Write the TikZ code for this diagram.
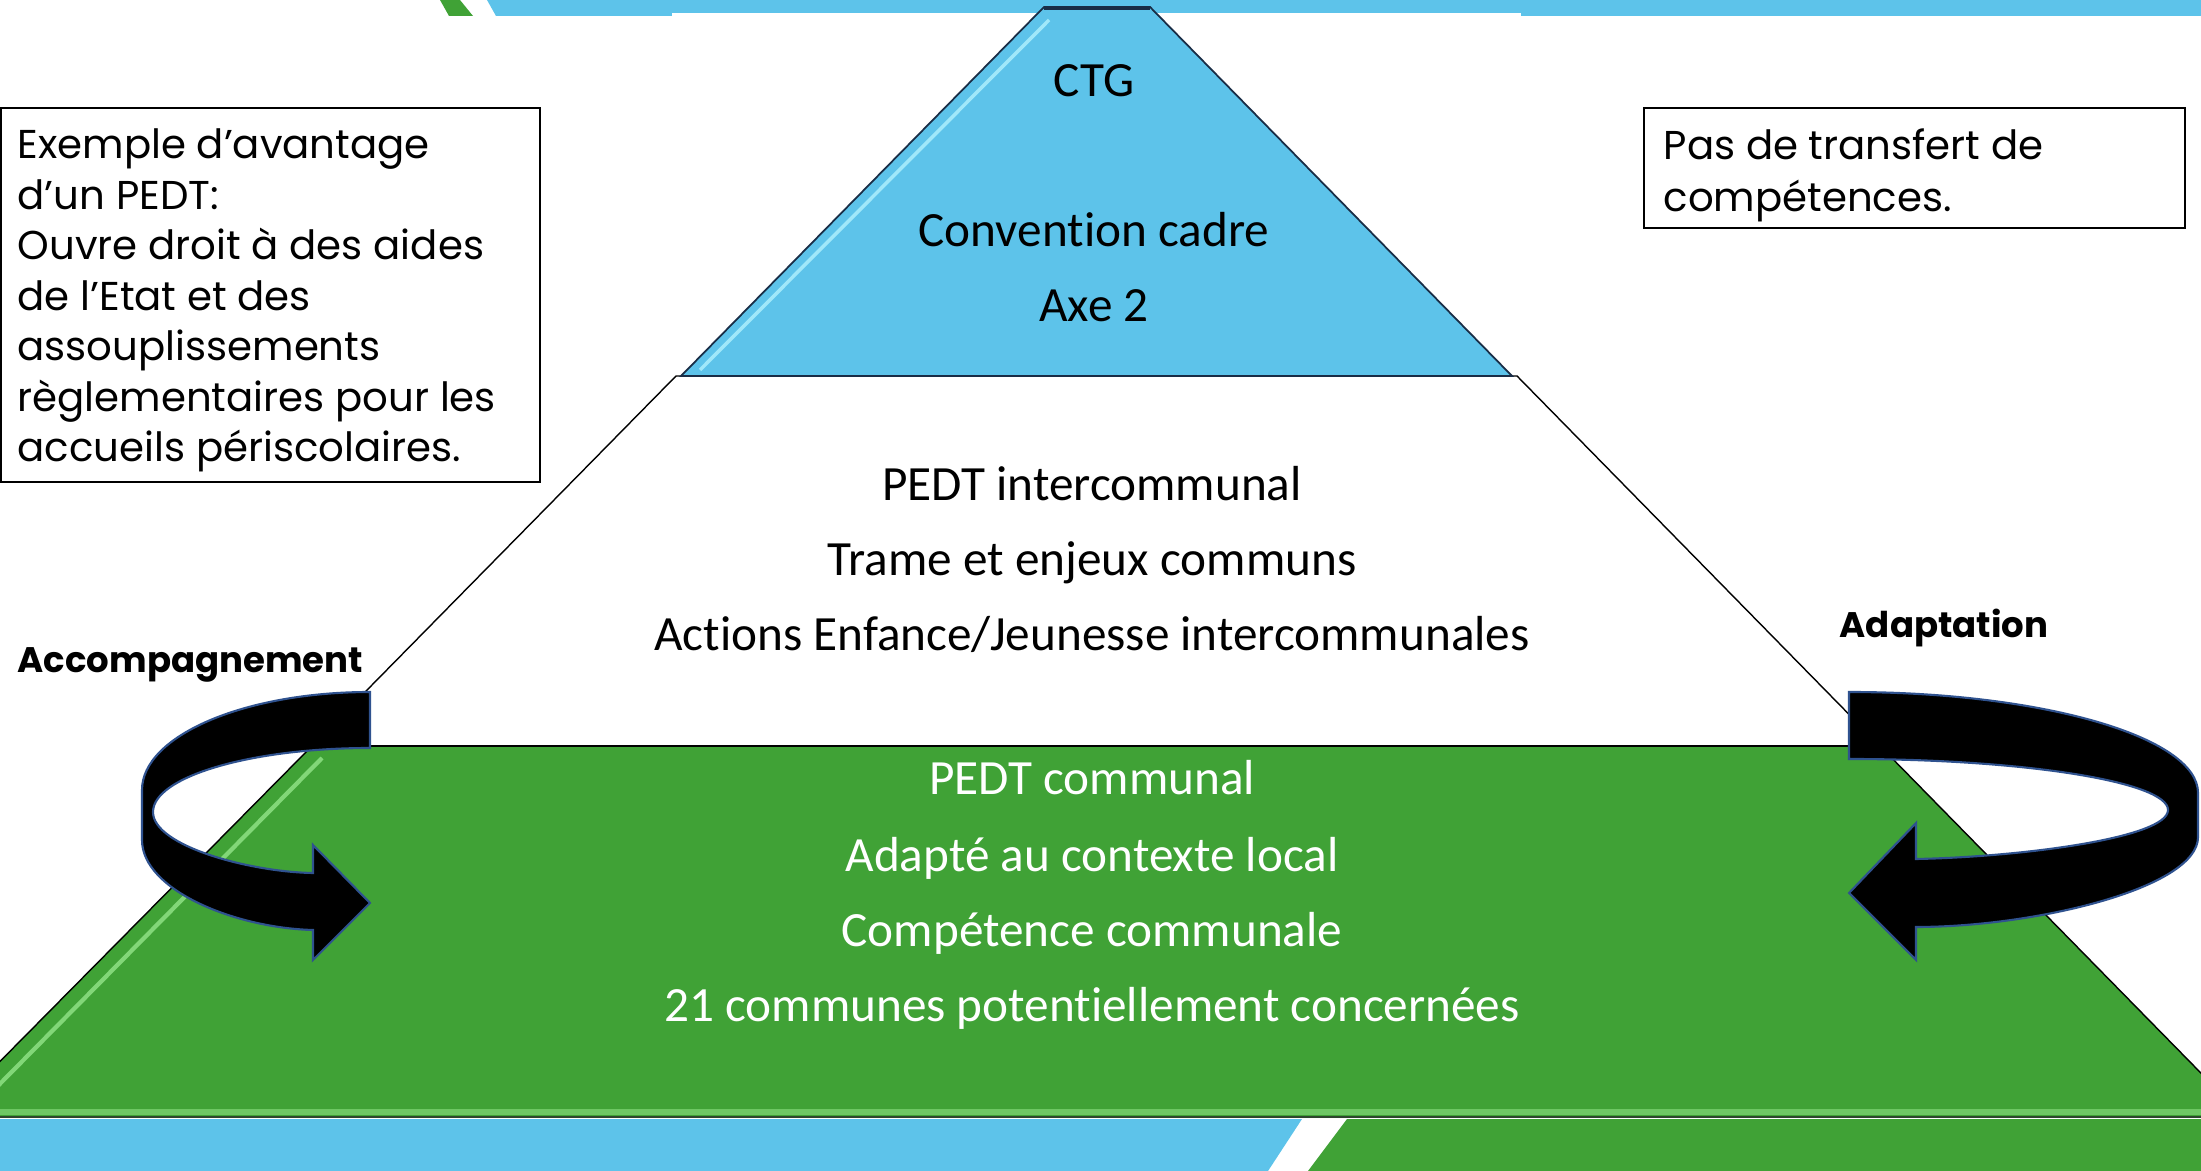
\documentclass[tikz,border=0pt]{standalone}
\usepackage{fontspec}
\setmainfont{Carlito}[Ligatures=NoCommon]
\newfontfamily\gothic{Poppins}
\definecolor{pblue}{RGB}{93,195,234}
\definecolor{pgreen}{RGB}{64,162,54}
\definecolor{lightgreen}{RGB}{130,215,120}
\definecolor{lightcyan}{RGB}{160,232,250}
\definecolor{arrowedge}{RGB}{47,82,143}
\definecolor{darkline}{RGB}{45,70,45}
\definecolor{bluedark}{RGB}{25,45,70}
\begin{document}
\begin{tikzpicture}[x=0.01cm,y=-0.01cm,
  pyrtext/.style={font=\fontsize{14}{16}\selectfont, anchor=base, inner sep=0pt},
  pyrwhite/.style={pyrtext, text=white},
  boxtext/.style={font=\gothic\fontsize{11.45}{14}\selectfont, anchor=base west, inner sep=0pt},
  sidelabel/.style={font=\gothic\bfseries\fontsize{10.1}{12}\selectfont, anchor=base west, inner sep=0pt},
  outline/.style={draw=black, line width=0.4pt},
  boxline/.style={draw=black, line width=0.6pt},
  curvedarrow/.style={fill=black, draw=arrowedge, line width=0.6pt, line join=miter}
]
\useasboundingbox (0,0) rectangle (2201,1171);
\clip (0,0) rectangle (2201,1171);
\fill[white] (0,0) rectangle (2201,1171);

% top band
\fill[pblue] (487,0) -- (2201,0) -- (2201,16) -- (496,16) -- cycle;
\fill[pgreen] (440,0) -- (460,0) -- (473,16) -- (449,16) -- cycle;
\fill[white] (672,13) rectangle (1521,17);

% green layer
\fill[pgreen] (311,747) -- (1881,747) -- (2244,1117) -- (-55,1117) -- cycle;
\fill[lightgreen!70!pgreen] (-55,1109) rectangle (2244,1115);
\draw[lightgreen, line width=1.2pt] (322,758) -- (-20,1104);
\draw[outline] (311,747) -- (-55,1117);
\draw[outline] (1881,747) -- (2244,1117);
\draw[darkline, line width=0.8pt] (0,1117) -- (2201,1117);

% white layer
\fill[white] (676,376) -- (1517,376) -- (1881,747) -- (311,747) -- cycle;
\draw[outline] (311,747) -- (676,376) -- (1517,376) -- (1881,747);
\draw[outline] (311,746) -- (1881,746);

% blue layer
\fill[pblue] (1044,7) -- (1150,7) -- (1512,376) -- (681,376) -- cycle;
\draw[lightcyan, line width=1pt] (1049,20) -- (700,370);
\draw[bluedark, line width=0.5pt] (681,376) -- (1044,7) -- (1150,7) -- (1512,376) -- cycle;
\draw[bluedark, line width=1pt] (1044,8) -- (1150,8);

% bottom band
\fill[pblue] (0,1119) -- (1302,1119) -- (1268,1171) -- (0,1171) -- cycle;
\fill[pgreen] (1347,1119) -- (2201,1119) -- (2201,1171) -- (1308,1171) -- cycle;

% pyramid texts
\node[pyrtext] (ctg) at (1094,97) {CTG};
\node[pyrtext] (conv) at (1094,247) {Convention cadre};
\node[pyrtext] (axe) at (1094,322) {Axe 2};
\node[pyrtext] (pi) at (1092,501) {PEDT intercommunal};
\node[pyrtext] (trame) at (1092,576) {Trame et enjeux communs};
\node[pyrtext] (actions) at (1092,651) {Actions Enfance/Jeunesse intercommunales};
\node[pyrwhite] (pc) at (1092,795) {PEDT communal};
\node[pyrwhite] (adapte) at (1092,871) {Adapté au contexte local};
\node[pyrwhite] (compet) at (1092,946) {Compétence communale};
\node[pyrwhite] (communes) at (1092,1021) {21 communes potentiellement concernées};

% left box
\draw[boxline] (1,108) rectangle (540,482);
\node[boxtext] (l1) at (17,159) {Exemple d’avantage};
\node[boxtext] (l2) at (17,209.5) {d’un PEDT:};
\node[boxtext] (l3) at (17,260) {Ouvre droit à des aides};
\node[boxtext] (l4) at (17,310.5) {de l’Etat et des};
\node[boxtext] (l5) at (17,361) {assouplissements};
\node[boxtext] (l6) at (17,411.5) {règlementaires pour les};
\node[boxtext] (l7) at (17,462) {accueils périscolaires.};

% right box
\draw[boxline] (1644,108) rectangle (2185,228);
\node[boxtext] (r1) at (1663,160) {Pas de transfert de};
\node[boxtext] (r2) at (1663,212) {compétences.};

% side labels
\node[sidelabel] (acc) at (17,673) {Accompagnement};
\node[sidelabel] (adapt) at (1839,638) {Adaptation};

% left curved arrow
\filldraw[curvedarrow] (370,692) .. controls (244,692) and (142,736) .. (142,790)
  -- (142,840) .. controls (142,890) and (235,928) .. (313,930)
  -- (313,960) -- (370,903) -- (313,845) -- (313,873)
  .. controls (250,872) and (153,846) .. (153,812)
  .. controls (153,777) and (250,748) .. (370,748) -- cycle;

% right curved arrow
\filldraw[curvedarrow] (1849,692) .. controls (2042,692) and (2198,737) .. (2198,793)
  -- (2198,837) .. controls (2198,888) and (2035,927) .. (1916,927)
  -- (1916,960) -- (1849,893) -- (1916,823) -- (1916,859)
  .. controls (2020,857) and (2168,838) .. (2168,810)
  .. controls (2168,782) and (2025,759) .. (1849,759) -- cycle;
\end{tikzpicture}
\end{document}
